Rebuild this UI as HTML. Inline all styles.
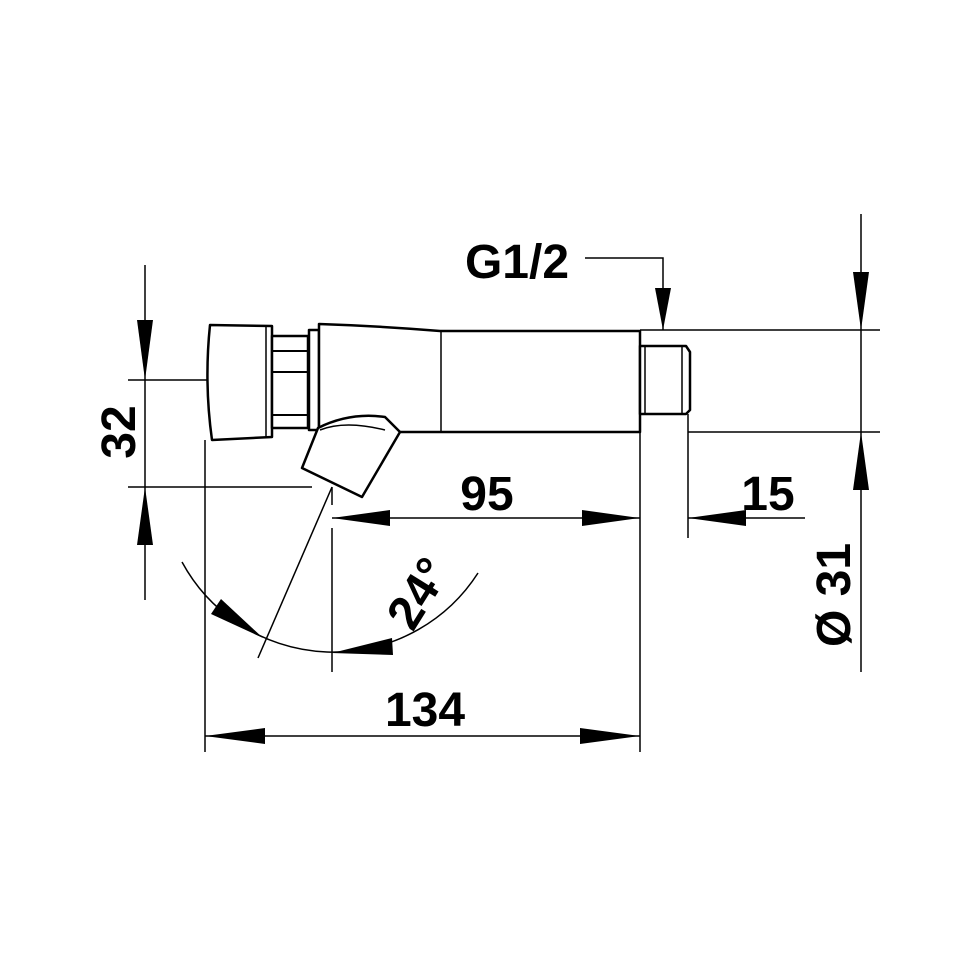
<!DOCTYPE html>
<html><head><style>body{margin:0;background:#fff}svg{display:block}</style></head><body>
<svg width="970" height="970" viewBox="0 0 970 970" xmlns="http://www.w3.org/2000/svg">
<g stroke="#000" stroke-width="1.5" fill="none">
<line x1="128" y1="380" x2="207" y2="380"/>
<line x1="128" y1="487" x2="312" y2="487"/>
<line x1="205" y1="440" x2="205" y2="752"/>
<line x1="332" y1="487" x2="332" y2="505"/>
<line x1="332" y1="528" x2="332" y2="672"/>
<line x1="640" y1="432" x2="640" y2="752"/>
<line x1="688" y1="414" x2="688" y2="538"/>
<line x1="640" y1="330" x2="880" y2="330"/>
<line x1="688" y1="432" x2="880" y2="432"/>
<line x1="145" y1="265" x2="145" y2="600"/>
<line x1="861" y1="214" x2="861" y2="672"/>
<line x1="332" y1="518" x2="640" y2="518"/>
<line x1="688" y1="518" x2="805" y2="518"/>
<line x1="205" y1="736" x2="640" y2="736"/>
<polyline points="585,258 663,258 663,330"/>
<path d="M182,562 A172,172 0 0 0 478,573"/>
<line x1="332" y1="487" x2="258" y2="658"/>
</g>
<g fill="#000">
<polygon points="145,380 137,320 153,320"/>
<polygon points="145,487 137,545 153,545"/>
<polygon points="861,330 853,272 869,272"/>
<polygon points="861,432 853,490 869,490"/>
<polygon points="663,330 655,288 671,288"/>
<polygon points="332,518 390,510 390,526"/>
<polygon points="640,518 582,510 582,526"/>
<polygon points="688,518 746,510 746,526"/>
<polygon points="205,736 265,728 265,744"/>
<polygon points="640,736 580,728 580,744"/>
<polygon points="263,638 211,614 221,599"/>
<polygon points="332,653 392,638 393,655"/>
</g>
<g stroke="#000" stroke-width="2.5" fill="#fff" stroke-linejoin="round">
<path d="M210,325 L272,326 L272,437 L212,440 Q204,383 210,325 Z"/>
<line x1="266" y1="326" x2="266" y2="438" stroke-width="1.5"/>
<rect x="272" y="336" width="36" height="92"/>
<line x1="272" y1="351" x2="308" y2="351" stroke-width="2"/>
<line x1="272" y1="372" x2="308" y2="372" stroke-width="2"/>
<line x1="272" y1="415" x2="308" y2="415" stroke-width="2"/>
<rect x="309" y="330" width="10" height="100"/>
<path d="M319,324 Q380,326 440,331 L640,331 L640,432 L400,432 L380,428 L319,432 Z"/>
<line x1="441" y1="331" x2="441" y2="432" stroke-width="1.5"/>
<path d="M640,346 L686,346 L690,352 L690,410 L686,414 L640,414 Z"/>
<line x1="645" y1="346" x2="645" y2="414" stroke-width="1.5"/>
<line x1="682" y1="346" x2="682" y2="414" stroke-width="1.5"/>
<path d="M318,428 Q350,412 385,417 L400,432 L362,497 L302,468 Z"/>
<path d="M320,430 Q345,420 385,430" stroke-width="1.5" fill="none"/>
</g>
<g font-family="Liberation Sans, sans-serif" font-weight="bold" font-size="48" fill="#000" text-anchor="middle">
<text x="517" y="278">G1/2</text>
<text x="487" y="510">95</text>
<text x="768" y="510">15</text>
<text x="425" y="726">134</text>
<text transform="translate(135,432) rotate(-90)">32</text>
<text transform="translate(850,595) rotate(-90)">Ø 31</text>
<text transform="translate(432,602) rotate(-58)">24°</text>
</g>
</svg>
</body></html>
